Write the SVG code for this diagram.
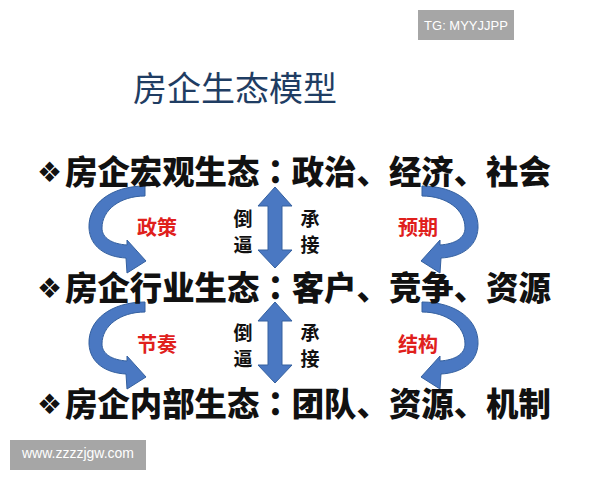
<svg xmlns="http://www.w3.org/2000/svg" width="600" height="480" viewBox="0 0 600 480">
<style>
.line{font-family:"Noto Sans CJK SC","Liberation Sans",sans-serif;font-weight:900;font-size:32.4px;fill:#111}
.colon{font-family:"Noto Sans CJK TC",sans-serif}
.dia{font-family:"DejaVu Sans",sans-serif;font-size:28px;fill:#111}
.red{font-family:"Noto Sans CJK SC",sans-serif;font-weight:700;font-size:20px;fill:#e0201c}
.side{font-family:"Noto Sans CJK SC",sans-serif;font-weight:700;font-size:19px;fill:#111}
.arrow{fill:#4a78c2;stroke:#34609f;stroke-width:1}
.wm{fill:#a6a6a6}
.wmt{font-family:"Liberation Sans",sans-serif;fill:#fff}
</style>
<defs>
<path id="curveL" d="M145 186 C111 186 88 204 89 228 C90 247 106 257 126 258 L127 273 L146 261 L127 240 L127 245 C112 244 102 238 102 228 C102 210 120 196 145 196 Z"/>
<path id="dbl" d="M275 0 L292 19 L282 19 L282 63 L292 63 L275 81 L258 63 L268 63 L268 19 L258 19 Z"/>
</defs>
<rect x="0" y="0" width="600" height="480" fill="#fff"/>
<g id="wm-top"><rect class="wm" x="418" y="10" width="96" height="30"/><text class="wmt" x="466" y="29.5" font-size="13" text-anchor="middle">TG: MYYJJPP</text></g>
<g id="title"><text x="133" y="101" font-family="Noto Sans CJK SC,sans-serif" font-size="34" fill="#1f3d63">房企生态模型</text></g>
<g id="connectors">
<use href="#curveL" class="arrow"/>
<use href="#curveL" class="arrow" transform="matrix(-1 0 0 1 567 0)"/>
<use href="#curveL" class="arrow" transform="translate(0 116)"/>
<use href="#curveL" class="arrow" transform="matrix(-1 0 0 1 567 116)"/>
<use href="#dbl" class="arrow" transform="translate(0 187)"/>
<use href="#dbl" class="arrow" transform="translate(0 302)"/>
</g>
<g id="node-macro"><text class="dia" x="37" y="182">❖</text><text class="line" x="65" y="184">房企宏观生态<tspan class="colon">：</tspan>政治、经济、社会</text></g>
<g id="node-industry"><text class="dia" x="37" y="298">❖</text><text class="line" x="65" y="300">房企行业生态<tspan class="colon">：</tspan>客户、竞争、资源</text></g>
<g id="node-internal"><text class="dia" x="37" y="414">❖</text><text class="line" x="65" y="416">房企内部生态<tspan class="colon">：</tspan>团队、资源、机制</text></g>
<g id="labels">
<text class="red" x="157" y="235" text-anchor="middle">政策</text>
<text class="red" x="418" y="235" text-anchor="middle">预期</text>
<text class="red" x="157" y="352" text-anchor="middle">节奏</text>
<text class="red" x="418" y="352" text-anchor="middle">结构</text>
<text class="side" x="243" y="226" text-anchor="middle">倒</text>
<text class="side" x="243" y="252" text-anchor="middle">逼</text>
<text class="side" x="310" y="226" text-anchor="middle">承</text>
<text class="side" x="310" y="252" text-anchor="middle">接</text>
<text class="side" x="243" y="340" text-anchor="middle">倒</text>
<text class="side" x="243" y="366" text-anchor="middle">逼</text>
<text class="side" x="310" y="340" text-anchor="middle">承</text>
<text class="side" x="310" y="366" text-anchor="middle">接</text>
</g>
<g id="wm-bottom"><rect class="wm" x="10" y="440" width="136" height="30"/><text class="wmt" x="78" y="458" font-size="14" text-anchor="middle">www.zzzzjgw.com</text></g>
</svg>
